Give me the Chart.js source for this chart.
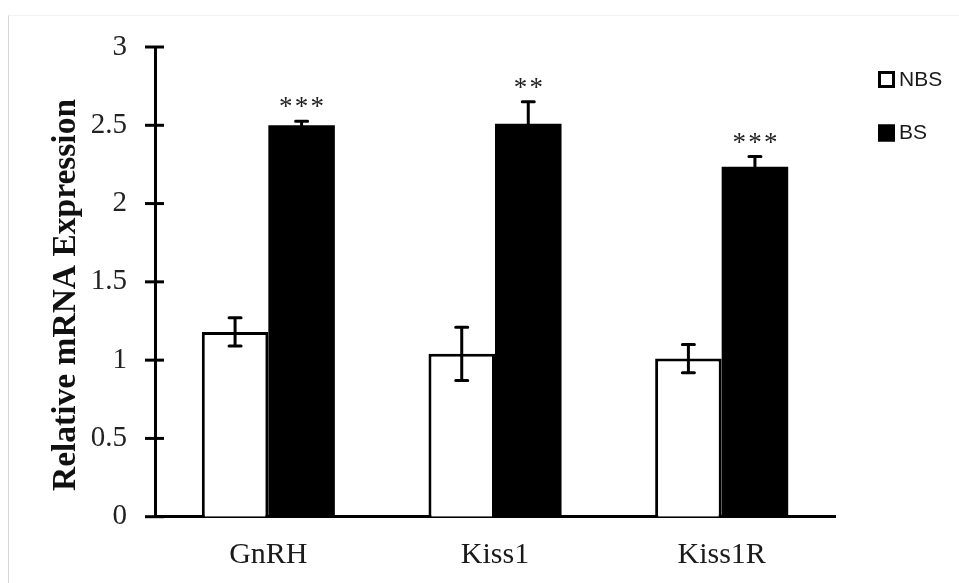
<!DOCTYPE html>
<html>
<head>
<meta charset="utf-8">
<script src="https://cdn.jsdelivr.net/npm/chart.js@4/dist/chart.umd.min.js"></script>
<style>
  html, body { margin: 0; padding: 0; background: #ffffff; }
  #wrap { position: relative; width: 959px; height: 583px; overflow: hidden; }
  #frame { position: absolute; left: 8px; top: 15px; right: -2px; bottom: -2px;
           border-left: 1px solid #d6d6d6; border-top: 1px solid #f2f2f2; z-index: 0; }
  #chart { position: absolute; left: 0; top: 0; z-index: 1; }
</style>
</head>
<body>
<div id="wrap">
  <div id="frame"></div>
  <canvas id="chart" width="959" height="583"></canvas>
</div>
<script>
// Gene targets on the x axis
const genes = ['GnRH', 'Kiss1', 'Kiss1R'];
// Group names
const groupNames = ['NBS', 'BS'];
// Mean relative expression per group
const nbsMeans = [1.18, 1.04, 1.01];
const bsMeans = [2.50, 2.51, 2.235];
// Error (SEM) per group
const nbsErrors = [0.09, 0.17, 0.09];
const bsErrors = [0.025, 0.14, 0.065];
// Significance markers above the BS bars
const significance = ['***', '**', '***'];
// Y axis ticks
const yTicks = [0, 0.5, 1, 1.5, 2, 2.5, 3];
const yTitle = 'Relative mRNA Expression';

const serif = '"Liberation Serif", "Times New Roman", serif';

// Whiskers with caps, drawn from each bar's mean and error
const errorBarPlugin = {
  id: 'errorBars',
  afterDatasetsDraw(chart) {
    const ctx = chart.ctx;
    const y = chart.scales.y;
    ctx.save();
    ctx.strokeStyle = '#000';
    ctx.lineWidth = 3;
    ctx.lineCap = 'round';
    chart.data.datasets.forEach((ds, di) => {
      const meta = chart.getDatasetMeta(di);
      meta.data.forEach((bar, i) => {
        const v = ds.data[i], e = ds.errors[i];
        const top = y.getPixelForValue(v + e);
        const bot = y.getPixelForValue(v - e);
        const x = bar.x;
        ctx.beginPath();
        ctx.moveTo(x, top); ctx.lineTo(x, bot);
        ctx.moveTo(x - 6, top); ctx.lineTo(x + 6, top);
        ctx.moveTo(x - 6, bot); ctx.lineTo(x + 6, bot);
        ctx.stroke();
      });
    });
    ctx.restore();
  }
};

// Asterisks over the BS bars
const starPlugin = {
  id: 'stars',
  afterDatasetsDraw(chart) {
    const ctx = chart.ctx;
    const y = chart.scales.y;
    const di = 1;
    const ds = chart.data.datasets[di];
    const meta = chart.getDatasetMeta(di);
    ctx.save();
    ctx.fillStyle = '#222';
    ctx.font = '27px ' + serif;
    ctx.textAlign = 'center';
    ctx.textBaseline = 'alphabetic';
    meta.data.forEach((bar, i) => {
      const top = y.getPixelForValue(ds.data[i] + ds.errors[i]);
      const text = significance[i].split('').join('\u200A');
      ctx.fillText(text, bar.x, top - 6);
    });
    ctx.restore();
  }
};

// Cross tick marks on the value axis, and the rotated axis title
const axisPlugin = {
  id: 'axisDecor',
  afterDraw(chart) {
    const ctx = chart.ctx;
    const y = chart.scales.y;
    const ax = chart.chartArea.left;
    ctx.save();
    ctx.strokeStyle = '#000';
    ctx.lineWidth = 3;
    y.ticks.forEach(t => {
      const py = y.getPixelForValue(t.value);
      ctx.beginPath();
      ctx.moveTo(ax - 10, py); ctx.lineTo(ax + 9, py);
      ctx.stroke();
    });
    ctx.fillStyle = '#111';
    ctx.font = 'bold 33.5px ' + serif;
    ctx.textAlign = 'center';
    ctx.textBaseline = 'middle';
    ctx.translate(66, 295);
    ctx.rotate(-Math.PI / 2);
    ctx.fillText(yTitle, 0, 0);
    ctx.restore();
  }
};

// Legend with square swatches at the top right
const legendPlugin = {
  id: 'sideLegend',
  afterDraw(chart) {
    const ctx = chart.ctx;
    ctx.save();
    ctx.font = '21px "Liberation Sans Narrow", "Liberation Sans", sans-serif';
    ctx.textBaseline = 'middle';
    ctx.textAlign = 'left';
    chart.data.datasets.forEach((ds, i) => {
      const bx = 878, by = 71 + i * 53.5;
      ctx.fillStyle = ds.backgroundColor;
      ctx.fillRect(bx, by, 17, 17);
      ctx.strokeStyle = '#000';
      ctx.lineWidth = 3;
      ctx.strokeRect(bx + 1.5, by + 1.5, 14, 14);
      ctx.fillStyle = '#1a1a1a';
      ctx.fillText(ds.label, 899, by + 9);
    });
    ctx.restore();
  }
};

new Chart(document.getElementById('chart'), {
  type: 'bar',
  data: {
    labels: genes,
    datasets: [
      { label: groupNames[0], data: nbsMeans, errors: nbsErrors,
        backgroundColor: '#ffffff', borderColor: '#000000', borderWidth: 3 },
      { label: groupNames[1], data: bsMeans, errors: bsErrors,
        backgroundColor: '#000000', borderColor: '#000000', borderWidth: 0 }
    ]
  },
  options: {
    responsive: false,
    animation: false,
    devicePixelRatio: 1,
    layout: { padding: { top: 47, right: 124, bottom: 0, left: 0 } },
    datasets: { bar: { categoryPercentage: 0.587, barPercentage: 1.0 } },
    plugins: { legend: { display: false }, tooltip: { enabled: false } },
    scales: {
      x: {
        grid: { display: false, drawTicks: false },
        border: { display: true, color: '#000', width: 3 },
        ticks: { color: '#1a1a1a', font: { family: serif, size: 30 }, padding: 20 },
        afterFit(s) { s.height = 66.3; }
      },
      y: {
        min: 0, max: 3,
        afterBuildTicks(s) { s.ticks = yTicks.map(v => ({ value: v })); },
        grid: { display: false, drawTicks: false },
        border: { display: true, color: '#000', width: 3 },
        ticks: { color: '#222', font: { family: serif, size: 29 }, padding: 28,
                 callback: v => String(v) },
        afterFit(s) { s.width = 155; }
      }
    }
  },
  plugins: [errorBarPlugin, starPlugin, axisPlugin, legendPlugin]
});
</script>
</body>
</html>
